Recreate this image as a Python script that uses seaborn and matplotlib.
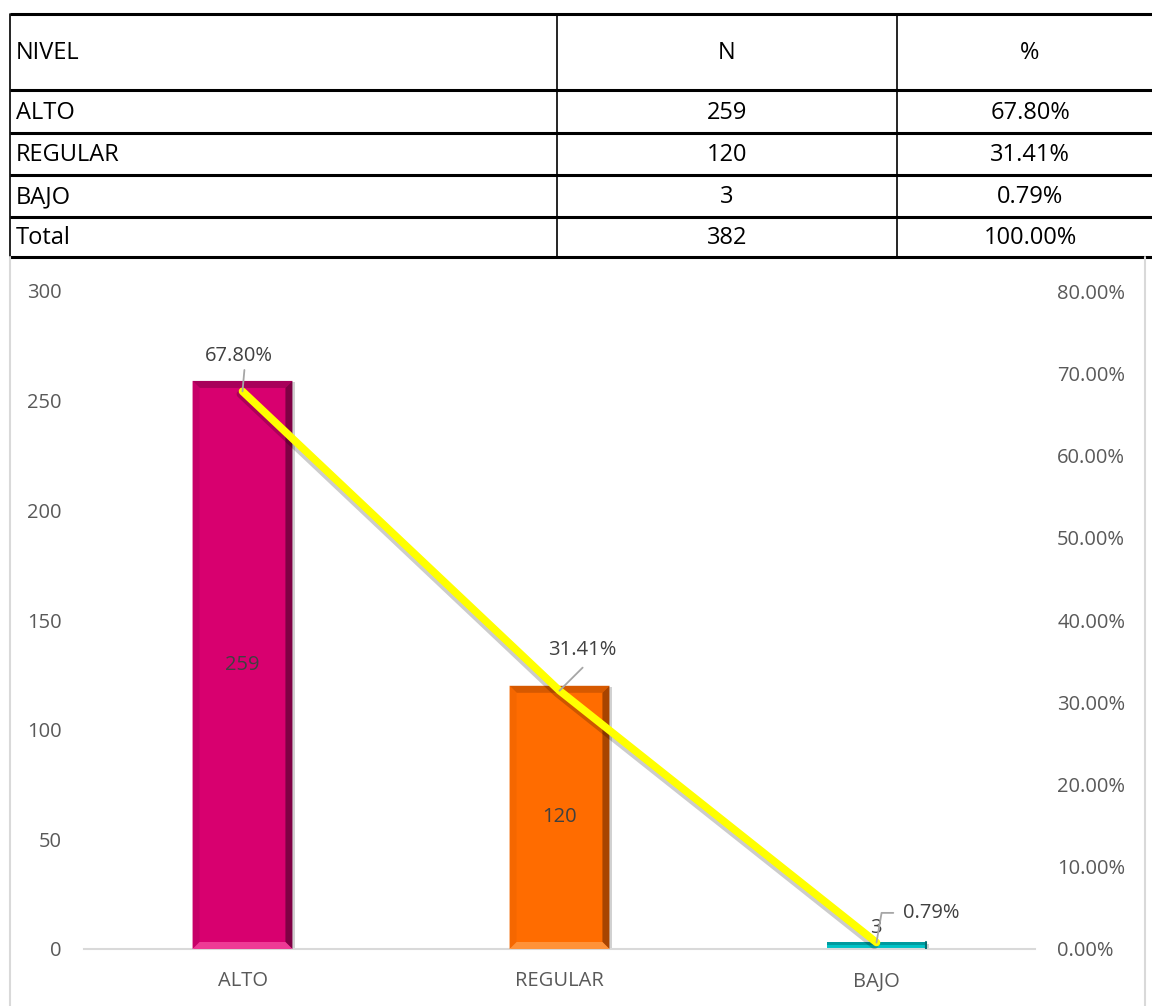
import numpy as np
import pandas as pd
import matplotlib
matplotlib.use("Agg")
import matplotlib.pyplot as plt
import matplotlib.patheffects as pe
from matplotlib.patches import Polygon
import seaborn as sns

# data
niveles = ["ALTO", "REGULAR", "BAJO"]
conteos = [259, 120, 3]
porcentajes = [67.80, 31.41, 0.79]
total_n = 382
total_pct = 100.00

# colours: base, top facet, right facet, left facet, bottom facet
bar_colors = ["#D8006F", "#FF6C00", "#00C2C6"]
bevel_colors = [
    ["#A8005A", "#7E0044", "#C70068", "#EE3A95"],
    ["#D65900", "#A84400", "#F56700", "#FF9238"],
    ["#009A9E", "#006F72", "#00B5B9", "#3FD8DB"],
]

sns.set_theme(style="white")
plt.rcParams["font.family"] = ["Open Sans", "DejaVu Sans"]

fig = plt.figure(figsize=(11.52, 10.06), dpi=100)

# overlay axis in pixel coords for the table and the chart frame
ov = fig.add_axes([0, 0, 1, 1])
ov.set_xlim(0, 1152)
ov.set_ylim(1006, 0)
ov.axis("off")

col_x = [10, 557, 897, 1152]
row_y = [14, 90, 133, 175, 217, 257]
for y in row_y:
    ov.plot([col_x[0], col_x[-1]], [y, y], color="black", lw=2.2, solid_capstyle="butt")
for x in col_x[:-1]:
    ov.plot([x, x], [row_y[0], row_y[-1]], color="black", lw=1.2)

rows = [["NIVEL", "N", "%"]]
for nv, c, p in zip(niveles, conteos, porcentajes):
    rows.append([nv, str(c), f"{p:.2f}%"])
rows.append(["Total", str(total_n), f"{total_pct:.2f}%"])
for i, r in enumerate(rows):
    yc = (row_y[i] + row_y[i + 1]) / 2 + 1
    ov.text(16, yc, r[0], ha="left", va="center", fontsize=17, color="black")
    ov.text(727, yc, r[1], ha="center", va="center", fontsize=17, color="black")
    ov.text(1030, yc, r[2], ha="center", va="center", fontsize=17, color="black")

ov.plot([10, 10], [257, 1006], color="#D9D9D9", lw=1.5)
ov.plot([1145, 1145], [257, 1006], color="#D9D9D9", lw=1.5)

# bar chart
ax = fig.add_axes([84 / 1152, 1 - 949 / 1006, 951 / 1152, 658 / 1006])
df = pd.DataFrame({"nivel": niveles, "n": conteos, "pct": porcentajes})
sns.barplot(data=df, x="nivel", y="n", hue="nivel", palette=bar_colors,
            width=0.315, legend=False, ax=ax, saturation=1)
ax.set_xlim(-0.5, 2.5)
ax.set_ylim(0, 300)

# bevel look on each bar
px_x = 3 / 951
px_y = 300 / 658
for patch, bc in zip(list(ax.patches), bevel_colors):
    patch.set_linewidth(0)
    patch.set_path_effects([pe.SimplePatchShadow(offset=(2, -1), shadow_rgbFace="black", alpha=0.18),
                            pe.Normal()])
    x0, y0 = patch.get_x(), patch.get_y()
    w, h = patch.get_width(), patch.get_height()
    x1, y1 = x0 + w, y0 + h
    bx = 7 * px_x
    by = min(7 * px_y, h / 3)
    if h < 10:
        ax.add_patch(Polygon([[x0, y1 - by], [x1, y1 - by], [x1, y1], [x0, y1]],
                             closed=True, color=bc[0], lw=0, zorder=3))
        ax.plot([x1, x1], [y0, y1], color=bc[1], lw=1.5, zorder=3)
        continue
    facets = [
        ([[x0, y1], [x1, y1], [x1 - bx, y1 - by], [x0 + bx, y1 - by]], bc[0]),
        ([[x1, y1], [x1, y0], [x1 - bx, y0 + by], [x1 - bx, y1 - by]], bc[1]),
        ([[x0, y1], [x0, y0], [x0 + bx, y0 + by], [x0 + bx, y1 - by]], bc[2]),
        ([[x0, y0], [x1, y0], [x1 - bx, y0 + by], [x0 + bx, y0 + by]], bc[3]),
    ]
    for pts, col in facets:
        ax.add_patch(Polygon(pts, closed=True, color=col, lw=0, zorder=3))

ax.set_yticks([0, 50, 100, 150, 200, 250, 300])
ax.set_xlabel("")
ax.set_ylabel("")
for s in ["top", "right", "left"]:
    ax.spines[s].set_visible(False)
ax.spines["bottom"].set_color("#D9D9D9")
ax.spines["bottom"].set_linewidth(1.5)
ax.tick_params(axis="both", colors="#595959", labelsize=14.5, length=0)
ax.tick_params(axis="y", pad=16)
ax.tick_params(axis="x", pad=16)
for lbl in ax.get_yticklabels() + ax.get_xticklabels():
    lbl.set_color("#595959")

for i, c in enumerate(conteos):
    if c > 20:
        ax.text(i, c / 2, str(c), ha="center", va="center", fontsize=14.5, color="#404040", zorder=5)
    else:
        ax.text(i - 0.003, c + 6.5, str(c), ha="center", va="center", fontsize=14.5, color="#404040", zorder=5)

# percentage line on secondary axis
ax2 = ax.twinx()
ax2.set_ylim(0, 0.8)
pct_frac = [p / 100 for p in porcentajes]
ax2.plot(range(len(niveles)), pct_frac, color="#FFFF00", lw=5.5, solid_capstyle="round",
         path_effects=[pe.SimpleLineShadow(offset=(-1.5, -2), alpha=0.2, shadow_color="black"), pe.Normal()])
ticks2 = np.arange(0, 0.81, 0.1)
ax2.set_yticks(ticks2)
ax2.set_yticklabels([f"{v * 100:.2f}%" for v in ticks2])
ax2.tick_params(axis="y", colors="#595959", labelsize=14.5, length=0, pad=16)
for lbl in ax2.get_yticklabels():
    lbl.set_color("#595959")
for s in ["top", "right", "left", "bottom"]:
    ax2.spines[s].set_visible(False)
ax2.grid(False)

# percentage labels with leader lines
label_offsets = [(-0.01, 0.0425), (0.073, 0.049), (0.173, 0.036)]
for i, (p, off) in enumerate(zip(pct_frac, label_offsets)):
    ax2.text(i + off[0], p + off[1], f"{porcentajes[i]:.2f}%", ha="center", va="center",
             fontsize=14.5, color="#404040")
    if i == 0:
        ax2.plot([i, i + 0.006], [p, p + 0.026], color="#A6A6A6", lw=1.3)
    elif i == 1:
        ax2.plot([i, i + 0.073], [p, p + 0.028], color="#A6A6A6", lw=1.3)
    else:
        ax2.plot([i, i + 0.016, i + 0.053], [p, p + 0.036, p + 0.036], color="#A6A6A6", lw=1.3)

fig.savefig("out.png", dpi=100)
